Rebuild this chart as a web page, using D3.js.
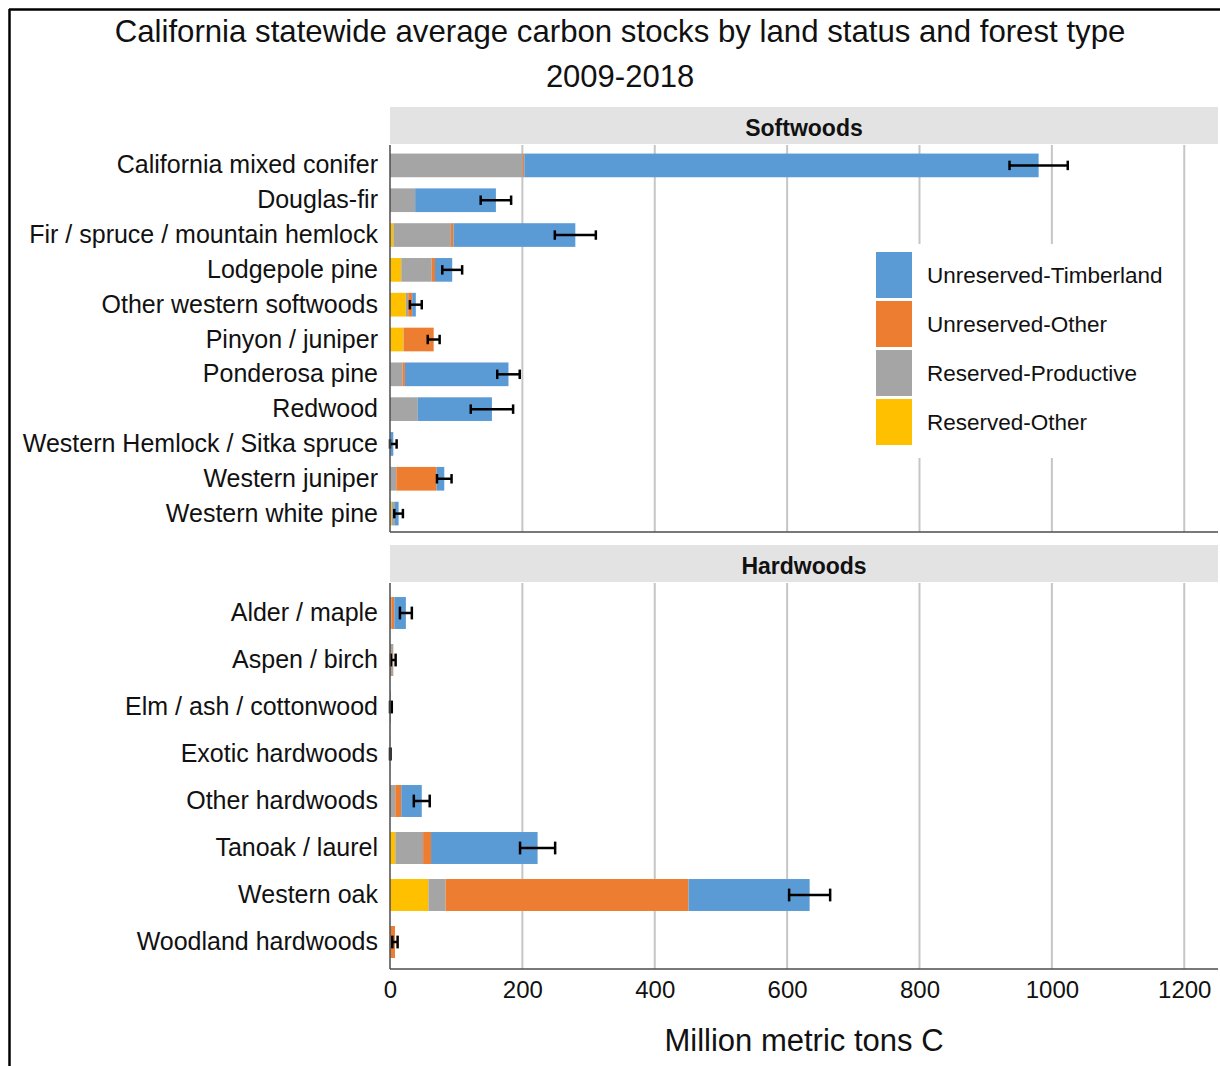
<!DOCTYPE html>
<html><head><meta charset="utf-8">
<script src="https://cdn.jsdelivr.net/npm/d3@7"></script>
<style>
html,body{margin:0;padding:0;background:#fff;}
svg{display:block;font-family:"Liberation Sans", Arial, sans-serif;}
</style></head>
<body>
<svg id="chart" width="1220" height="1066"></svg>
<script>
// ---------- DATA ----------
const titleLines = ["California statewide average carbon stocks by land status and forest type", "2009-2018"];
const xTicks = [0, 200, 400, 600, 800, 1000, 1200];
const xTitle = "Million metric tons C";
const seriesKeys = ["Reserved-Other", "Reserved-Productive", "Unreserved-Other", "Unreserved-Timberland"];
const legendOrder = ["Unreserved-Timberland", "Unreserved-Other", "Reserved-Productive", "Reserved-Other"];
const seriesColors = ["#FFC000", "#A5A5A5", "#ED7D31", "#5B9BD5"];

const softwoodTypes = ["California mixed conifer", "Douglas-fir", "Fir / spruce / mountain hemlock", "Lodgepole pine",
  "Other western softwoods", "Pinyon / juniper", "Ponderosa pine", "Redwood", "Western Hemlock / Sitka spruce",
  "Western juniper", "Western white pine"];
const softReservedOther        = [0,   0,   5,  17, 24,   20,  0.5, 0,   0,   0.5, 2.5];
const softReservedProductive   = [201, 38,  87, 46, 3.5,  0.5, 18.5, 42, 0.5, 9,   5];
const softUnreservedOther      = [2,   0,   4,  5,  6,    45.5, 3.5, 0,  0,   61,  0];
const softUnreservedTimberland = [777, 122, 184, 26, 5.5, 0,   156.5, 112, 4.5, 11.5, 5.5];
const softError                = [44,  23,  31, 15, 9,    9,   17,  32,  5,   11,  6.5];

const hardwoodTypes = ["Alder / maple", "Aspen / birch", "Elm / ash / cottonwood", "Exotic hardwoods",
  "Other hardwoods", "Tanoak / laurel", "Western oak", "Woodland hardwoods"];
const hardReservedOther        = [0,    0,   0,   0,   0,  8,   58,  0];
const hardReservedProductive   = [2,    4.5, 0,   0,   8,  42,  26,  0.5];
const hardUnreservedOther      = [4.5,  0.5, 1,   0.3, 9,  12,  367, 7];
const hardUnreservedTimberland = [17.5, 0,   0.2, 0,   31, 161, 183, 0];
const hardError                = [9,    3.5, 1.5, 0.4, 12, 26.5, 31, 4];

// ---------- BUILD ----------
function buildRows(types, ro, rp, uo, ut, err) {
  return types.map((t, i) => ({
    type: t,
    "Reserved-Other": ro[i], "Reserved-Productive": rp[i],
    "Unreserved-Other": uo[i], "Unreserved-Timberland": ut[i],
    err: err[i]
  }));
}
const panels = [
  {name: "Softwoods", rows: buildRows(softwoodTypes, softReservedOther, softReservedProductive, softUnreservedOther, softUnreservedTimberland, softError),
   stripTop: 107, top: 145, bottom: 532, bandTop: 148, bandBottom: 531},
  {name: "Hardwoods", rows: buildRows(hardwoodTypes, hardReservedOther, hardReservedProductive, hardUnreservedOther, hardUnreservedTimberland, hardError),
   stripTop: 545, top: 583, bottom: 969, bandTop: 589.5, bandBottom: 965.5}
];

const svg = d3.select("#chart");
const color = d3.scaleOrdinal().domain(seriesKeys).range(seriesColors);
const x = d3.scaleLinear().domain([0, 1251]).range([390, 1218]);
const stack = d3.stack().keys(seriesKeys);

// frame
svg.append("line").attr("x1", 9.5).attr("x2", 9.5).attr("y1", 9).attr("y2", 1066).attr("stroke", "#000").attr("stroke-width", 2.5);
svg.append("line").attr("x1", 9).attr("x2", 1220).attr("y1", 9.5).attr("y2", 9.5).attr("stroke", "#000").attr("stroke-width", 2.5);

// title
svg.append("text").attr("x", 620).attr("y", 42).attr("text-anchor", "middle")
  .attr("font-size", 31.2).attr("fill", "#111").text(titleLines[0]);
svg.append("text").attr("x", 620).attr("y", 87).attr("text-anchor", "middle")
  .attr("font-size", 31).attr("fill", "#111").text(titleLines[1]);

panels.forEach((p, pi) => {
  const g = svg.append("g");
  const y = d3.scaleBand().domain(p.rows.map(d => d.type)).range([p.bandTop, p.bandBottom]).paddingInner(0.32).paddingOuter(0.16);
  // strip
  g.append("rect").attr("x", x(0)).attr("y", p.stripTop).attr("width", x.range()[1] - x(0)).attr("height", p.top - p.stripTop - 1)
    .attr("fill", "#e3e3e3");
  g.append("text").attr("x", (x(0) + x.range()[1]) / 2).attr("y", p.stripTop + 29).attr("text-anchor", "middle")
    .attr("font-size", 23).attr("font-weight", "bold").attr("fill", "#111").text(p.name);
  // grid
  g.append("g").selectAll("line").data(xTicks.filter(t => t > 0)).join("line")
    .attr("x1", d => x(d)).attr("x2", d => x(d)).attr("y1", p.top).attr("y2", p.bottom)
    .attr("stroke", "#c6c6c6").attr("stroke-width", 2);
  // bars
  const series = stack(p.rows);
  g.append("g").selectAll("g").data(series).join("g").attr("fill", s => color(s.key))
    .selectAll("rect").data(s => s).join("rect")
    .attr("x", d => x(d[0])).attr("width", d => Math.max(0, x(d[1]) - x(d[0])))
    .attr("y", d => y(d.data.type)).attr("height", y.bandwidth());
  // error bars
  const eg = g.append("g").attr("stroke", "#000").attr("stroke-width", 2.5);
  const cap = y.bandwidth() * 0.2;
  p.rows.forEach(d => {
    const tot = seriesKeys.reduce((a, k) => a + d[k], 0);
    const cy = y(d.type) + y.bandwidth() / 2;
    const x1 = x(Math.max(0, tot - d.err)), x2 = x(tot + d.err);
    eg.append("line").attr("x1", x1).attr("x2", x2).attr("y1", cy).attr("y2", cy);
    eg.append("line").attr("x1", x1).attr("x2", x1).attr("y1", cy - cap).attr("y2", cy + cap);
    eg.append("line").attr("x1", x2).attr("x2", x2).attr("y1", cy - cap).attr("y2", cy + cap);
  });
  // axes lines
  g.append("line").attr("x1", x(0)).attr("x2", x(0)).attr("y1", p.top).attr("y2", p.bottom).attr("stroke", "#4d4d4d").attr("stroke-width", 1.5);
  g.append("line").attr("x1", x(0)).attr("x2", x.range()[1]).attr("y1", p.bottom).attr("y2", p.bottom).attr("stroke", "#4d4d4d").attr("stroke-width", 1.5);
  // y labels
  const yAxis = d3.axisLeft(y).tickSize(0).tickPadding(12);
  const ya = g.append("g").attr("transform", `translate(${x(0)},0)`).call(yAxis);
  ya.select(".domain").remove();
  ya.selectAll("text").attr("font-size", 25).attr("fill", "#111").attr("font-family", "Liberation Sans, Arial, sans-serif");

  if (pi === 1) {
    const xa = g.append("g").attr("transform", `translate(0,${p.bottom})`)
      .call(d3.axisBottom(x).tickValues(xTicks).tickFormat(d3.format("d")).tickSize(0).tickPadding(12));
    xa.select(".domain").remove();
    xa.selectAll("text").attr("font-size", 24).attr("fill", "#111").attr("font-family", "Liberation Sans, Arial, sans-serif");
  }
});

// x title
svg.append("text").attr("x", 804).attr("y", 1051).attr("text-anchor", "middle")
  .attr("font-size", 31).attr("fill", "#111").text(xTitle);

// legend
const lg = svg.append("g");
lg.append("rect").attr("x", 866).attr("y", 244).attr("width", 314).attr("height", 214).attr("fill", "#fff");
legendOrder.forEach((k, i) => {
  const yy = 252 + i * 49;
  lg.append("rect").attr("x", 876).attr("y", yy).attr("width", 36).attr("height", 46).attr("fill", color(k));
  lg.append("text").attr("x", 927).attr("y", yy + 23).attr("dy", "0.35em").attr("font-size", 22.5).attr("fill", "#111").text(k);
});
</script>
</body></html>
